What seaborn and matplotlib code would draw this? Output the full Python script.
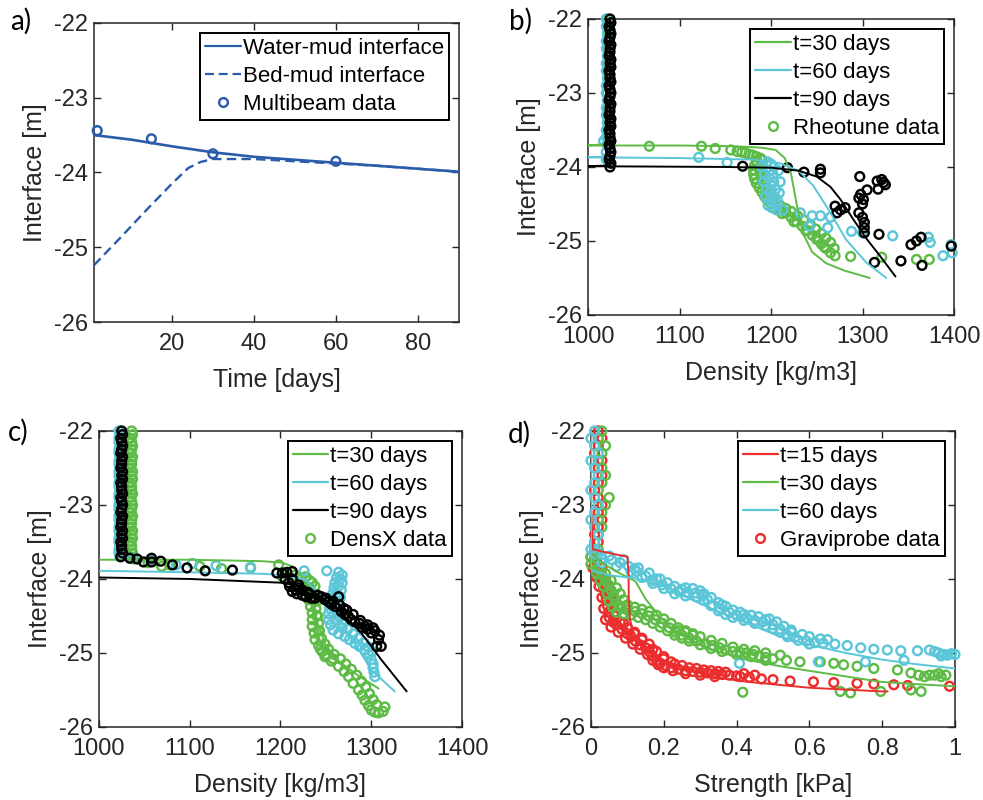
import matplotlib
matplotlib.use("Agg")
import matplotlib.pyplot as plt
from matplotlib.lines import Line2D
import seaborn as sns

sns.set_theme(style="white")
plt.rcParams['font.family'] = ['Liberation Sans', 'DejaVu Sans']

BLUE = '#2A5CAA'
GREEN = '#5DBB46'
CYAN = '#5BC6D8'
RED = '#EC2D2D'
BLACK = '#000000'
AXC = '#262626'

# ---------------- panel a ----------------
a_days_water = [1, 10, 20, 30, 40, 50, 60, 70, 80, 90]
a_water = [-23.50, -23.56, -23.65, -23.73, -23.79, -23.83, -23.87, -23.91, -23.95, -23.99]
a_days_bed = [1, 8, 14, 20, 24, 27, 30, 35, 40, 50, 60, 70, 80, 90]
a_bed = [-25.24, -24.84, -24.49, -24.15, -23.94, -23.86, -23.82, -23.82, -23.82, -23.85, -23.88, -23.91, -23.95, -23.99]
a_mb_days = [1.8, 15, 30, 60]
a_mb = [-23.44, -23.55, -23.75, -23.85]

# ---------------- panel b (density, Rheotune) ----------------
b_l30_x = [1021, 1021, 1000, 1100, 1160, 1190, 1205, 1215, 1222, 1228, 1235, 1245, 1260, 1280, 1308]
b_l30_y = [-22.0, -23.69, -23.71, -23.71, -23.72, -23.74, -23.77, -23.88, -24.10, -24.50, -24.90, -25.15, -25.30, -25.40, -25.50]
b_l60_x = [1020, 1020, 1000, 1100, 1180, 1210, 1230, 1246, 1264, 1282, 1304, 1326]
b_l60_y = [-22.0, -23.86, -23.87, -23.88, -23.90, -23.95, -24.05, -24.25, -24.60, -24.98, -25.29, -25.50]
b_l90_x = [1024, 1024, 1000, 1150, 1200, 1230, 1250, 1265, 1276, 1290, 1305, 1319, 1336]
b_l90_y = [-22.0, -23.98, -23.99, -24.00, -24.01, -24.05, -24.13, -24.27, -24.44, -24.71, -24.98, -25.20, -25.48]

b_col_grn_y = [-22.0, -22.1, -22.2, -22.3, -22.4, -22.5, -22.6, -22.7, -22.8, -22.9,
               -23.0, -23.1, -23.2, -23.3, -23.4, -23.5, -23.6, -23.7]
b_col_grn_x = [1021, 1021, 1022, 1021, 1021, 1022, 1021, 1021, 1022, 1021,
               1021, 1022, 1021, 1021, 1022, 1021, 1021, 1021]
b_col_cyn_y = [-22.0, -22.1, -22.2, -22.3, -22.4, -22.5, -22.6, -22.7, -22.8, -22.9,
               -23.0, -23.1, -23.2, -23.3, -23.4, -23.5, -23.6, -23.7, -23.8, -23.9]
b_col_cyn_x = [1020, 1020, 1021, 1020, 1020, 1021, 1020, 1020, 1021, 1020,
               1020, 1021, 1020, 1020, 1021, 1020, 1020, 1021, 1020, 1020]
b_col_blk_y = [-22.00, -22.05, -22.10, -22.15, -22.20, -22.25, -22.30, -22.35, -22.40, -22.45,
               -22.50, -22.55, -22.60, -22.65, -22.70, -22.75, -22.80, -22.85, -22.90, -22.95,
               -23.00, -23.05, -23.10, -23.15, -23.20, -23.25, -23.30, -23.35, -23.40, -23.45,
               -23.50, -23.55, -23.60, -23.65, -23.70, -23.75, -23.80, -23.85, -23.90, -23.95,
               -24.00]
b_col_blk_x = [1024, 1025, 1023, 1024, 1025, 1024, 1023, 1025, 1024, 1024,
               1023, 1025, 1024, 1025, 1023, 1024, 1024, 1025, 1023, 1024,
               1025, 1024, 1023, 1025, 1024, 1024, 1023, 1025, 1024, 1025,
               1023, 1024, 1024, 1025, 1023, 1024, 1025, 1024, 1023, 1025,
               1024]

b_grn_x = [1067, 1124, 1139, 1156, 1163, 1168, 1172, 1176, 1180, 1184, 1188,
           1184, 1182, 1181, 1181, 1182, 1184, 1187, 1190, 1193, 1196, 1200, 1205, 1210,
           1216, 1222, 1228, 1234, 1240, 1245, 1250, 1255, 1260, 1265, 1270,
           1188, 1190, 1193, 1212, 1225, 1238, 1250, 1258,
           1287, 1321, 1359, 1373]
b_grn_y = [-23.72, -23.72, -23.75, -23.77, -23.79, -23.80, -23.81, -23.83, -23.84, -23.86, -23.88,
           -23.92, -23.98, -24.04, -24.10, -24.16, -24.22, -24.28, -24.34, -24.40, -24.45, -24.50, -24.55, -24.58,
           -24.62, -24.68, -24.74, -24.80, -24.86, -24.92, -24.98, -25.04, -25.10, -25.16, -25.20,
           -24.02, -24.12, -24.22, -24.63, -24.74, -24.86, -24.95, -25.08,
           -25.21, -25.22, -25.25, -25.25]
b_grn2_x = [1190, 1189, 1188, 1189, 1191, 1194, 1197, 1200, 1204, 1210,
            1216, 1222, 1229, 1236, 1243, 1249, 1255, 1260, 1265, 1269]
b_grn2_y = [-23.90, -23.98, -24.06, -24.14, -24.20, -24.28, -24.35, -24.42, -24.47, -24.52,
            -24.56, -24.60, -24.66, -24.72, -24.78, -24.84, -24.90, -24.96, -25.02, -25.10]
b_cyn_x = [1017, 1121, 1152, 1196, 1200, 1203, 1199, 1202, 1198, 1203, 1200, 1205, 1199, 1204,
           1200, 1205, 1201, 1206, 1193, 1195, 1208, 1210, 1190, 1192, 1194, 1197, 1209, 1207,
           1213, 1232, 1245, 1254, 1265, 1242, 1262, 1288, 1300, 1333, 1372, 1374, 1388, 1398, 1397]
b_cyn_y = [-23.65, -23.87, -23.94, -23.93, -23.96, -24.00, -24.05, -24.10, -24.15, -24.20, -24.25, -24.30, -24.35, -24.40,
           -24.45, -24.50, -24.55, -24.58, -24.10, -24.30, -24.05, -24.20, -24.00, -24.20, -24.40, -24.52, -24.35, -24.45,
           -24.58, -24.62, -24.66, -24.66, -24.68, -24.80, -24.82, -24.87, -24.89, -24.93, -24.95, -25.02, -25.20, -25.16, -25.05]
b_blk_x = [1169, 1218, 1236, 1254, 1254, 1297, 1321, 1323, 1325, 1317, 1305, 1298, 1301, 1296,
           1270, 1276, 1281, 1272, 1296, 1300, 1302, 1302, 1302, 1318, 1353, 1359, 1364, 1397,
           1313, 1342, 1365, 1316, 1300]
b_blk_y = [-23.99, -24.01, -24.07, -24.03, -24.08, -24.13, -24.17, -24.21, -24.24, -24.30, -24.31, -24.37, -24.44, -24.42,
           -24.53, -24.58, -24.55, -24.62, -24.62, -24.68, -24.75, -24.82, -24.89, -24.91, -25.05, -25.00, -24.95, -25.07,
           -25.29, -25.27, -25.33, -24.19, -24.50]

# ---------------- panel c (density, DensX) ----------------
c_l30_x = [1000, 1100, 1180, 1202, 1213, 1224, 1231, 1238, 1250, 1265, 1285, 1308]
c_l30_y = [-23.74, -23.74, -23.76, -23.78, -23.83, -23.97, -24.20, -24.50, -24.90, -25.12, -25.30, -25.48]
c_l60_x = [1000, 1100, 1180, 1205, 1228, 1245, 1264, 1282, 1300, 1326]
c_l60_y = [-23.89, -23.91, -23.93, -23.95, -24.01, -24.24, -24.55, -24.87, -25.23, -25.52]
c_l90_x = [1000, 1100, 1200, 1224, 1245, 1267, 1289, 1311, 1339]
c_l90_y = [-23.98, -24.00, -24.05, -24.10, -24.24, -24.46, -24.73, -25.09, -25.52]

c_col_y = [-22.00, -22.05, -22.10, -22.15, -22.20, -22.25, -22.30, -22.35, -22.40, -22.45,
           -22.50, -22.55, -22.60, -22.65, -22.70, -22.75, -22.80, -22.85, -22.90, -22.95,
           -23.00, -23.05, -23.10, -23.15, -23.20, -23.25, -23.30, -23.35, -23.40, -23.45,
           -23.50, -23.55, -23.60, -23.65, -23.70]
c_col_grn_x = [1036, 1037, 1035, 1036, 1037, 1036, 1035, 1037, 1036, 1036,
               1035, 1037, 1036, 1037, 1035, 1036, 1036, 1037, 1035, 1036,
               1037, 1036, 1035, 1037, 1036, 1036, 1035, 1037, 1036, 1037,
               1035, 1036, 1036, 1037, 1035]
c_col_cyn_x = [1022, 1023, 1022, 1022, 1023, 1022, 1022, 1023, 1022, 1022,
               1023, 1022, 1022, 1023, 1022, 1022, 1023, 1022, 1022, 1023,
               1022, 1022, 1023, 1022, 1022, 1023, 1022, 1022, 1023, 1022,
               1022, 1023, 1022, 1022, 1023]
c_col_blk_x = [1025, 1026, 1024, 1025, 1026, 1025, 1024, 1026, 1025, 1025,
               1024, 1026, 1025, 1026, 1024, 1025, 1025, 1026, 1024, 1025,
               1026, 1025, 1024, 1026, 1025, 1025, 1024, 1026, 1025, 1026,
               1024, 1025, 1025, 1026, 1024]

c_grn_x = [1038, 1054, 1069, 1078, 1111, 1135, 1167, 1198, 1202,
           1215, 1222, 1228, 1232, 1235, 1232, 1231, 1231, 1233, 1235, 1235, 1235, 1237, 1238,
           1242, 1246, 1249, 1256, 1264, 1270, 1275, 1280, 1286, 1290, 1293, 1297, 1300, 1304,
           1308, 1313, 1315, 1240, 1240, 1242, 1226, 1244, 1250, 1258]
c_grn_y = [-23.73, -23.78, -23.83, -23.81, -23.83, -23.86, -23.85, -23.81, -23.97,
           -23.95, -23.98, -23.97, -24.02, -24.05, -24.12, -24.20, -24.28, -24.37, -24.46, -24.55, -24.64, -24.73, -24.82,
           -24.90, -24.98, -25.05, -25.11, -25.18, -25.25, -25.32, -25.41, -25.50, -25.57, -25.64, -25.71, -25.77, -25.80,
           -25.81, -25.79, -25.73, -24.30, -24.50, -24.70, -24.10, -24.95, -25.02, -25.08]
c_grn2_x = [1238, 1237, 1237, 1239, 1241, 1242, 1243, 1245, 1249, 1253,
            1259, 1266, 1272, 1278, 1284, 1289, 1294, 1298, 1302, 1306]
c_grn2_y = [-24.10, -24.20, -24.30, -24.40, -24.50, -24.60, -24.70, -24.80, -24.88, -24.95,
            -25.02, -25.08, -25.15, -25.22, -25.30, -25.38, -25.46, -25.55, -25.63, -25.70]
c_cyn_x = [1036, 1056, 1085, 1103, 1129, 1167, 1226, 1251, 1264,
           1262, 1260, 1259, 1258, 1256, 1255, 1254, 1253, 1253, 1255, 1258, 1264, 1271, 1276,
           1282, 1287, 1293, 1297, 1300, 1302, 1302, 1303, 1304,
           1266, 1264, 1262, 1261, 1259, 1262, 1268]
c_cyn_y = [-23.72, -23.74, -23.81, -23.79, -23.82, -23.84, -23.89, -23.89, -23.91,
           -23.98, -24.05, -24.12, -24.19, -24.26, -24.33, -24.40, -24.47, -24.55, -24.62, -24.69, -24.74, -24.78, -24.82,
           -24.87, -24.91, -24.96, -25.02, -25.09, -25.15, -25.20, -25.26, -25.32,
           -24.00, -24.10, -24.20, -24.30, -24.40, -24.55, -24.66]
c_cyn2_x = [1268, 1268, 1267, 1266, 1265, 1264, 1265, 1268, 1274, 1280, 1286, 1292, 1297, 1301]
c_cyn2_y = [-23.95, -24.05, -24.15, -24.25, -24.35, -24.45, -24.52, -24.60, -24.68, -24.74, -24.80, -24.86, -24.92, -24.98]
c_blk_x = [1034, 1042, 1049, 1058, 1058, 1068, 1081, 1097, 1117, 1147, 1196, 1207,
           1202, 1213, 1209, 1213, 1217, 1224, 1213, 1224, 1228, 1238, 1245, 1253, 1260, 1264,
           1267, 1275, 1282, 1287, 1293, 1300, 1304, 1308, 1311, 1306,
           1220, 1230, 1249, 1256, 1271, 1278, 1296, 1241, 1234, 1218,
           1205, 1210, 1220, 1232, 1250, 1258, 1265, 1273, 1280, 1288, 1296, 1302, 1309, 1290, 1270]
c_blk_y = [-23.72, -23.73, -23.77, -23.72, -23.77, -23.76, -23.81, -23.85, -23.89, -23.88, -23.92, -23.91,
           -23.92, -23.90, -24.05, -24.00, -24.15, -24.15, -24.17, -24.22, -24.24, -24.26, -24.24, -24.31, -24.37, -24.24,
           -24.44, -24.51, -24.58, -24.60, -24.64, -24.73, -24.70, -24.82, -24.91, -24.91,
           -24.08, -24.18, -24.28, -24.34, -24.48, -24.55, -24.68, -24.22, -24.26, -24.20,
           -24.00, -24.10, -24.12, -24.20, -24.26, -24.30, -24.35, -24.42, -24.48, -24.56, -24.62, -24.66, -24.76, -24.66, -24.40]

# ---------------- panel d (strength, Graviprobe) ----------------
d_l15_x = [0.0, 0.0, 0.005, 0.05, 0.10, 0.103, 0.104, 0.107, 0.115, 0.13, 0.16, 0.20, 0.24, 0.33, 0.43, 0.60, 0.80, 0.815]
d_l15_y = [-22.0, -23.0, -23.60, -23.65, -23.70, -23.90, -24.30, -24.55, -24.70, -24.83, -24.98, -25.10, -25.18, -25.32, -25.39, -25.47, -25.52, -25.52]
d_l30_x = [0.0, 0.0, 0.03, 0.07, 0.122, 0.15, 0.187, 0.224, 0.27, 0.334, 0.427, 0.52, 0.611, 0.704, 0.796, 0.888, 1.0]
d_l30_y = [-22.0, -23.65, -23.78, -23.90, -24.03, -24.27, -24.50, -24.68, -24.82, -24.96, -25.09, -25.18, -25.25, -25.32, -25.39, -25.42, -25.45]
d_l60_x = [0.0, 0.0, 0.05, 0.12, 0.20, 0.25, 0.33, 0.43, 0.52, 0.61, 0.70, 0.80, 0.89, 1.0]
d_l60_y = [-22.0, -23.88, -23.95, -23.99, -24.10, -24.22, -24.40, -24.60, -24.78, -24.90, -25.00, -25.09, -25.15, -25.21]

d_col_y = [-22.0, -22.1, -22.2, -22.3, -22.4, -22.5, -22.6, -22.7, -22.8, -22.9,
           -23.0, -23.1, -23.2, -23.3, -23.4, -23.5, -23.6]
d_col_red_x = [0.02, 0.03, 0.02, 0.01, 0.03, 0.02, 0.03, 0.02, 0.01, 0.02,
               0.03, 0.02, 0.03, 0.02, 0.01, 0.02, 0.01]
d_col_grn_x = [0.03, 0.02, 0.04, 0.03, 0.02, 0.03, 0.04, 0.03, 0.02, 0.05,
               0.04, 0.03, 0.02, 0.03, 0.02, 0.01, 0.02]
d_col_cyn_x = [0.01, 0.00, 0.01, 0.02, 0.00, 0.01, 0.02, 0.01, 0.00, 0.01,
               0.02, 0.01, 0.00, 0.01, 0.02, 0.01, 0.01]

d_red_x = [0.0, 0.01, 0.02, 0.025, 0.03, 0.035, 0.039, 0.042, 0.045, 0.048, 0.05, 0.06, 0.07, 0.085, 0.10,
           0.11, 0.122, 0.135, 0.15, 0.16, 0.168, 0.18, 0.19, 0.205, 0.22, 0.24, 0.26, 0.28, 0.30, 0.32,
           0.34, 0.36, 0.38, 0.40, 0.41, 0.435, 0.468, 0.50, 0.547, 0.611, 0.667, 0.731, 0.777, 0.832, 0.87, 0.985,
           0.03, 0.045, 0.055, 0.065, 0.09, 0.12, 0.14, 0.17, 0.20, 0.23, 0.27, 0.31, 0.35]
d_red_y = [-23.70, -23.80, -23.90, -23.97, -24.05, -24.12, -24.20, -24.28, -24.36, -24.45, -24.52, -24.58, -24.62, -24.68, -24.74,
           -24.78, -24.84, -24.89, -24.93, -24.98, -25.04, -25.10, -25.14, -25.17, -25.20, -25.22, -25.24, -25.25, -25.26, -25.27,
           -25.28, -25.29, -25.30, -25.31, -25.32, -25.33, -25.35, -25.36, -25.38, -25.39, -25.40, -25.41, -25.42, -25.43, -25.44, -25.45,
           -23.95, -24.10, -24.30, -24.45, -24.60, -24.72, -24.82, -24.95, -25.08, -25.15, -25.20, -25.23, -25.25]
d_red2_x = [0.015, 0.03, 0.04, 0.048, 0.055, 0.06, 0.065, 0.08, 0.10, 0.12, 0.14, 0.16, 0.18, 0.20,
            0.22, 0.25, 0.29, 0.33, 0.37, 0.42, 0.45,
            0.005, 0.015, 0.022, 0.03, 0.035, 0.04, 0.055, 0.075, 0.095, 0.115, 0.135, 0.155, 0.17,
            0.185, 0.20, 0.225, 0.26, 0.30, 0.34]
d_red2_y = [-23.75, -23.85, -24.00, -24.15, -24.25, -24.38, -24.50, -24.58, -24.66, -24.74, -24.80, -24.88, -24.98, -25.05,
            -25.12, -25.17, -25.21, -25.24, -25.26, -25.28, -25.30,
            -23.85, -23.98, -24.10, -24.25, -24.40, -24.55, -24.65, -24.72, -24.80, -24.88, -24.95, -25.02, -25.10,
            -25.16, -25.20, -25.24, -25.28, -25.30, -25.32]
d_grn_x = [0.0, 0.01, 0.02, 0.03, 0.04, 0.048, 0.055, 0.062, 0.067, 0.075, 0.085, 0.10, 0.122, 0.14, 0.159,
           0.177, 0.196, 0.215, 0.233, 0.25, 0.27, 0.29, 0.316, 0.334, 0.353, 0.37, 0.39, 0.41, 0.427, 0.445,
           0.463, 0.48, 0.50, 0.537, 0.574, 0.63, 0.667, 0.694, 0.731, 0.777, 0.842, 0.879, 0.90, 0.916, 0.93,
           0.944, 0.955, 0.962, 0.975, 0.24, 0.26, 0.28,
           0.417, 0.685, 0.713, 0.796, 0.879, 0.907]
d_grn_y = [-23.70, -23.78, -23.88, -23.95, -24.02, -24.08, -24.15, -24.22, -24.28, -24.35, -24.40, -24.42, -24.44, -24.47, -24.50,
           -24.55, -24.60, -24.66, -24.72, -24.76, -24.80, -24.84, -24.88, -24.90, -24.93, -24.96, -24.98, -24.99, -25.00, -25.02,
           -25.04, -25.06, -25.08, -25.10, -25.12, -25.12, -25.14, -25.16, -25.18, -25.21, -25.23, -25.27, -25.30, -25.32, -25.30,
           -25.30, -25.28, -25.32, -25.30, -24.70, -24.72, -24.76,
           -25.53, -25.52, -25.54, -25.52, -25.50, -25.52]
d_grn2_x = [0.01, 0.025, 0.04, 0.055, 0.07, 0.08, 0.09, 0.10, 0.12, 0.14, 0.16, 0.18, 0.20, 0.22, 0.24,
            0.26, 0.28, 0.30, 0.33, 0.36, 0.39, 0.42, 0.45, 0.48, 0.52,
            0.0, 0.015, 0.025, 0.035, 0.045, 0.05, 0.06, 0.07, 0.09, 0.11, 0.13, 0.15, 0.17, 0.19, 0.21,
            0.23, 0.25, 0.27, 0.30, 0.33, 0.36, 0.40, 0.44, 0.48]
d_grn2_y = [-23.72, -23.83, -23.93, -24.02, -24.12, -24.20, -24.28, -24.35, -24.38, -24.41, -24.44, -24.49, -24.54, -24.60, -24.66,
            -24.70, -24.74, -24.78, -24.83, -24.87, -24.92, -24.95, -24.97, -25.00, -25.03,
            -23.80, -23.92, -24.02, -24.10, -24.20, -24.30, -24.38, -24.45, -24.47, -24.49, -24.52, -24.55, -24.60, -24.65, -24.70,
            -24.76, -24.80, -24.84, -24.89, -24.94, -24.98, -25.02, -25.05, -25.10]
d_cyn_x = [0.0, 0.01, 0.03, 0.057, 0.08, 0.103, 0.125, 0.15, 0.17, 0.196, 0.22, 0.242, 0.265, 0.288, 0.306,
           0.32, 0.334, 0.355, 0.38, 0.40, 0.427, 0.45, 0.472, 0.50, 0.52, 0.537, 0.56, 0.592, 0.615, 0.638,
           0.67, 0.704, 0.741, 0.777, 0.814, 0.851, 0.897, 0.93, 0.944, 0.955, 0.962, 0.97, 0.98, 0.99, 1.0,
           0.12, 0.18, 0.25, 0.31, 0.36, 0.42, 0.48, 0.55,
           0.408, 0.625, 0.754, 0.86]
d_cyn_y = [-23.60, -23.66, -23.72, -23.74, -23.78, -23.83, -23.90, -23.96, -24.02, -24.08, -24.13, -24.17, -24.18, -24.19, -24.23,
           -24.28, -24.35, -24.40, -24.45, -24.49, -24.52, -24.56, -24.58, -24.62, -24.68, -24.75, -24.79, -24.84, -24.86, -24.87,
           -24.88, -24.90, -24.93, -24.95, -24.96, -24.97, -24.97, -24.96, -24.98, -25.00, -25.04, -25.02, -25.03, -25.01, -25.02,
           -23.86, -24.00, -24.14, -24.20, -24.35, -24.48, -24.55, -24.72,
           -25.14, -25.12, -25.12, -25.10]
d_cyn2_x = [0.02, 0.05, 0.09, 0.13, 0.16, 0.19, 0.21, 0.23, 0.26, 0.28, 0.30, 0.33, 0.35, 0.37, 0.39,
            0.41, 0.44, 0.46, 0.49, 0.51, 0.53, 0.55, 0.58, 0.60, 0.63, 0.65,
            0.03, 0.07, 0.11, 0.14, 0.17, 0.20, 0.23, 0.26, 0.29, 0.31, 0.33, 0.35, 0.37, 0.39, 0.42,
            0.45, 0.48, 0.50, 0.52, 0.54, 0.57, 0.60]
d_cyn2_y = [-23.65, -23.69, -23.74, -23.85, -23.92, -24.00, -24.05, -24.10, -24.12, -24.13, -24.16, -24.25, -24.32, -24.37, -24.42,
            -24.45, -24.49, -24.51, -24.54, -24.58, -24.64, -24.69, -24.75, -24.78, -24.81, -24.82,
            -23.78, -23.83, -23.90, -23.98, -24.06, -24.13, -24.20, -24.23, -24.24, -24.29, -24.36, -24.43, -24.48, -24.52, -24.56,
            -24.60, -24.63, -24.67, -24.72, -24.78, -24.83, -24.88]

density_ticks = [1000, 1100, 1200, 1300, 1400]
depth_ticks = [-26, -25, -24, -23, -22]
time_ticks = [20, 40, 60, 80]
strength_ticks = [0, 0.2, 0.4, 0.6, 0.8, 1.0]
strength_labels = ['0', '0.2', '0.4', '0.6', '0.8', '1']

TICK_FS = 17
LABEL_FS = 18
LEG_FS = 16


def draw_line(ax, xs, ys, color, ls='-', lw=1.4):
    sns.lineplot(x=xs, y=ys, ax=ax, color=color, linestyle=ls, lw=lw,
                 sort=False, estimator=None, legend=False, zorder=4)


def draw_pts(ax, xs, ys, color, z=3):
    sns.scatterplot(x=xs, y=ys, ax=ax, marker='o', s=40, color=color,
                    edgecolor=color, linewidth=1.75, legend=False, zorder=z)
    coll = ax.collections[-1]
    coll.set_facecolor('none')
    coll.set_clip_on(False)


def style_ax(ax, xlabel):
    for sp in ax.spines.values():
        sp.set_color(AXC)
        sp.set_linewidth(1.1)
        sp.set_visible(True)
    ax.tick_params(direction='in', length=5, width=1.0, top=True, right=True,
                   bottom=True, left=True, colors=AXC, labelsize=TICK_FS)
    ax.tick_params(axis='x', pad=8)
    ax.tick_params(axis='y', pad=4)
    ax.set_yticks(depth_ticks)
    ax.set_yticklabels([str(t) for t in depth_ticks])
    ax.set_ylim(-26, -22)
    ax.set_ylabel('Interface [m]', fontsize=LABEL_FS, color=AXC, labelpad=5)
    ax.set_xlabel(xlabel, fontsize=LABEL_FS, color=AXC, labelpad=9)
    ax.grid(False)
    ax.set_facecolor('white')


def line_handle(color, ls='-'):
    return Line2D([0], [0], color=color, lw=1.6, linestyle=ls)


def pt_handle(color):
    return Line2D([0], [0], marker='o', ls='none', mfc='none', mec=color, mew=1.7, ms=6.3)


def add_legend(ax, handles, labels):
    leg = ax.legend(handles, labels, loc='upper right', fontsize=LEG_FS, frameon=True,
                    fancybox=False, framealpha=1, edgecolor='black', handlelength=1.6,
                    handletextpad=0.1, labelspacing=0.32, borderpad=0.22, borderaxespad=0.45)
    leg.get_frame().set_linewidth(1.4)
    for t in leg.get_texts():
        t.set_color('black')
    leg.set_zorder(10)


fig = plt.figure(figsize=(9.83, 8.0), dpi=100)
fig.patch.set_facecolor('white')

ax_a = fig.add_axes([0.0956, 0.5975, 0.3713, 0.3738])
ax_b = fig.add_axes([0.5982, 0.6063, 0.3723, 0.3700])
ax_c = fig.add_axes([0.1007, 0.0913, 0.3693, 0.3700])
ax_d = fig.add_axes([0.6012, 0.0913, 0.3703, 0.3700])

# panel a
draw_line(ax_a, a_days_water, a_water, BLUE, '-', 1.9)
draw_line(ax_a, a_days_bed, a_bed, BLUE, (0, (4, 2.2)), 1.7)
draw_pts(ax_a, a_mb_days, a_mb, BLUE)
style_ax(ax_a, 'Time [days]')
ax_a.set_xlim(1, 90)
ax_a.set_xticks(time_ticks)
ax_a.set_xticklabels([str(t) for t in time_ticks])
add_legend(ax_a, [line_handle(BLUE), line_handle(BLUE, (0, (4, 2.2))), pt_handle(BLUE)],
           ['Water-mud interface', 'Bed-mud interface', 'Multibeam data'])

# panel b
draw_pts(ax_b, b_col_grn_x, b_col_grn_y, GREEN)
draw_pts(ax_b, b_col_cyn_x, b_col_cyn_y, CYAN)
draw_pts(ax_b, b_grn_x, b_grn_y, GREEN)
draw_pts(ax_b, b_grn2_x, b_grn2_y, GREEN)
draw_pts(ax_b, b_cyn_x, b_cyn_y, CYAN)
draw_pts(ax_b, b_blk_x, b_blk_y, BLACK)
draw_line(ax_b, b_l30_x, b_l30_y, GREEN)
draw_line(ax_b, b_l60_x, b_l60_y, CYAN)
draw_line(ax_b, b_l90_x, b_l90_y, BLACK)
draw_pts(ax_b, b_col_blk_x, b_col_blk_y, BLACK, z=5)
style_ax(ax_b, 'Density [kg/m3]')
ax_b.set_xlim(1000, 1400)
ax_b.set_xticks(density_ticks)
ax_b.set_xticklabels([str(t) for t in density_ticks])
add_legend(ax_b, [line_handle(GREEN), line_handle(CYAN), line_handle(BLACK), pt_handle(GREEN)],
           ['t=30 days', 't=60 days', 't=90 days', 'Rheotune data'])

# panel c
draw_pts(ax_c, c_col_cyn_x, c_col_y, CYAN)
draw_pts(ax_c, c_col_grn_x, c_col_y, GREEN)
draw_pts(ax_c, c_grn_x, c_grn_y, GREEN)
draw_pts(ax_c, c_grn2_x, c_grn2_y, GREEN)
draw_pts(ax_c, c_cyn_x, c_cyn_y, CYAN)
draw_pts(ax_c, c_cyn2_x, c_cyn2_y, CYAN)
draw_line(ax_c, c_l30_x, c_l30_y, GREEN)
draw_line(ax_c, c_l60_x, c_l60_y, CYAN)
draw_line(ax_c, c_l90_x, c_l90_y, BLACK)
draw_pts(ax_c, c_col_blk_x, c_col_y, BLACK, z=5)
draw_pts(ax_c, c_blk_x, c_blk_y, BLACK, z=5)
style_ax(ax_c, 'Density [kg/m3]')
ax_c.set_xlim(1000, 1400)
ax_c.set_xticks(density_ticks)
ax_c.set_xticklabels([str(t) for t in density_ticks])
add_legend(ax_c, [line_handle(GREEN), line_handle(CYAN), line_handle(BLACK), pt_handle(GREEN)],
           ['t=30 days', 't=60 days', 't=90 days', 'DensX data'])

# panel d
draw_pts(ax_d, d_col_red_x, d_col_y, RED)
draw_pts(ax_d, d_col_grn_x, d_col_y, GREEN)
draw_pts(ax_d, d_col_cyn_x, d_col_y, CYAN)
draw_pts(ax_d, d_red_x, d_red_y, RED)
draw_pts(ax_d, d_red2_x, d_red2_y, RED)
draw_pts(ax_d, d_grn_x, d_grn_y, GREEN)
draw_pts(ax_d, d_grn2_x, d_grn2_y, GREEN)
draw_pts(ax_d, d_cyn_x, d_cyn_y, CYAN)
draw_pts(ax_d, d_cyn2_x, d_cyn2_y, CYAN)
draw_line(ax_d, d_l15_x, d_l15_y, RED)
draw_line(ax_d, d_l30_x, d_l30_y, GREEN)
draw_line(ax_d, d_l60_x, d_l60_y, CYAN)
style_ax(ax_d, 'Strength [kPa]')
ax_d.set_xlim(0, 1)
ax_d.set_xticks(strength_ticks)
ax_d.set_xticklabels(strength_labels)
add_legend(ax_d, [line_handle(RED), line_handle(GREEN), line_handle(CYAN), pt_handle(RED)],
           ['t=15 days', 't=30 days', 't=60 days', 'Graviprobe data'])

for lbl, x, y in [('a)', 10, 21), ('b)', 509, 21), ('c)', 8, 432), ('d)', 508, 434)]:
    fig.text(x / 983, 1 - y / 800, lbl, fontsize=20, va='center', ha='left',
             color='black', family=['Lato', 'DejaVu Sans'])

fig.savefig('out.png', dpi=100, facecolor='white')
